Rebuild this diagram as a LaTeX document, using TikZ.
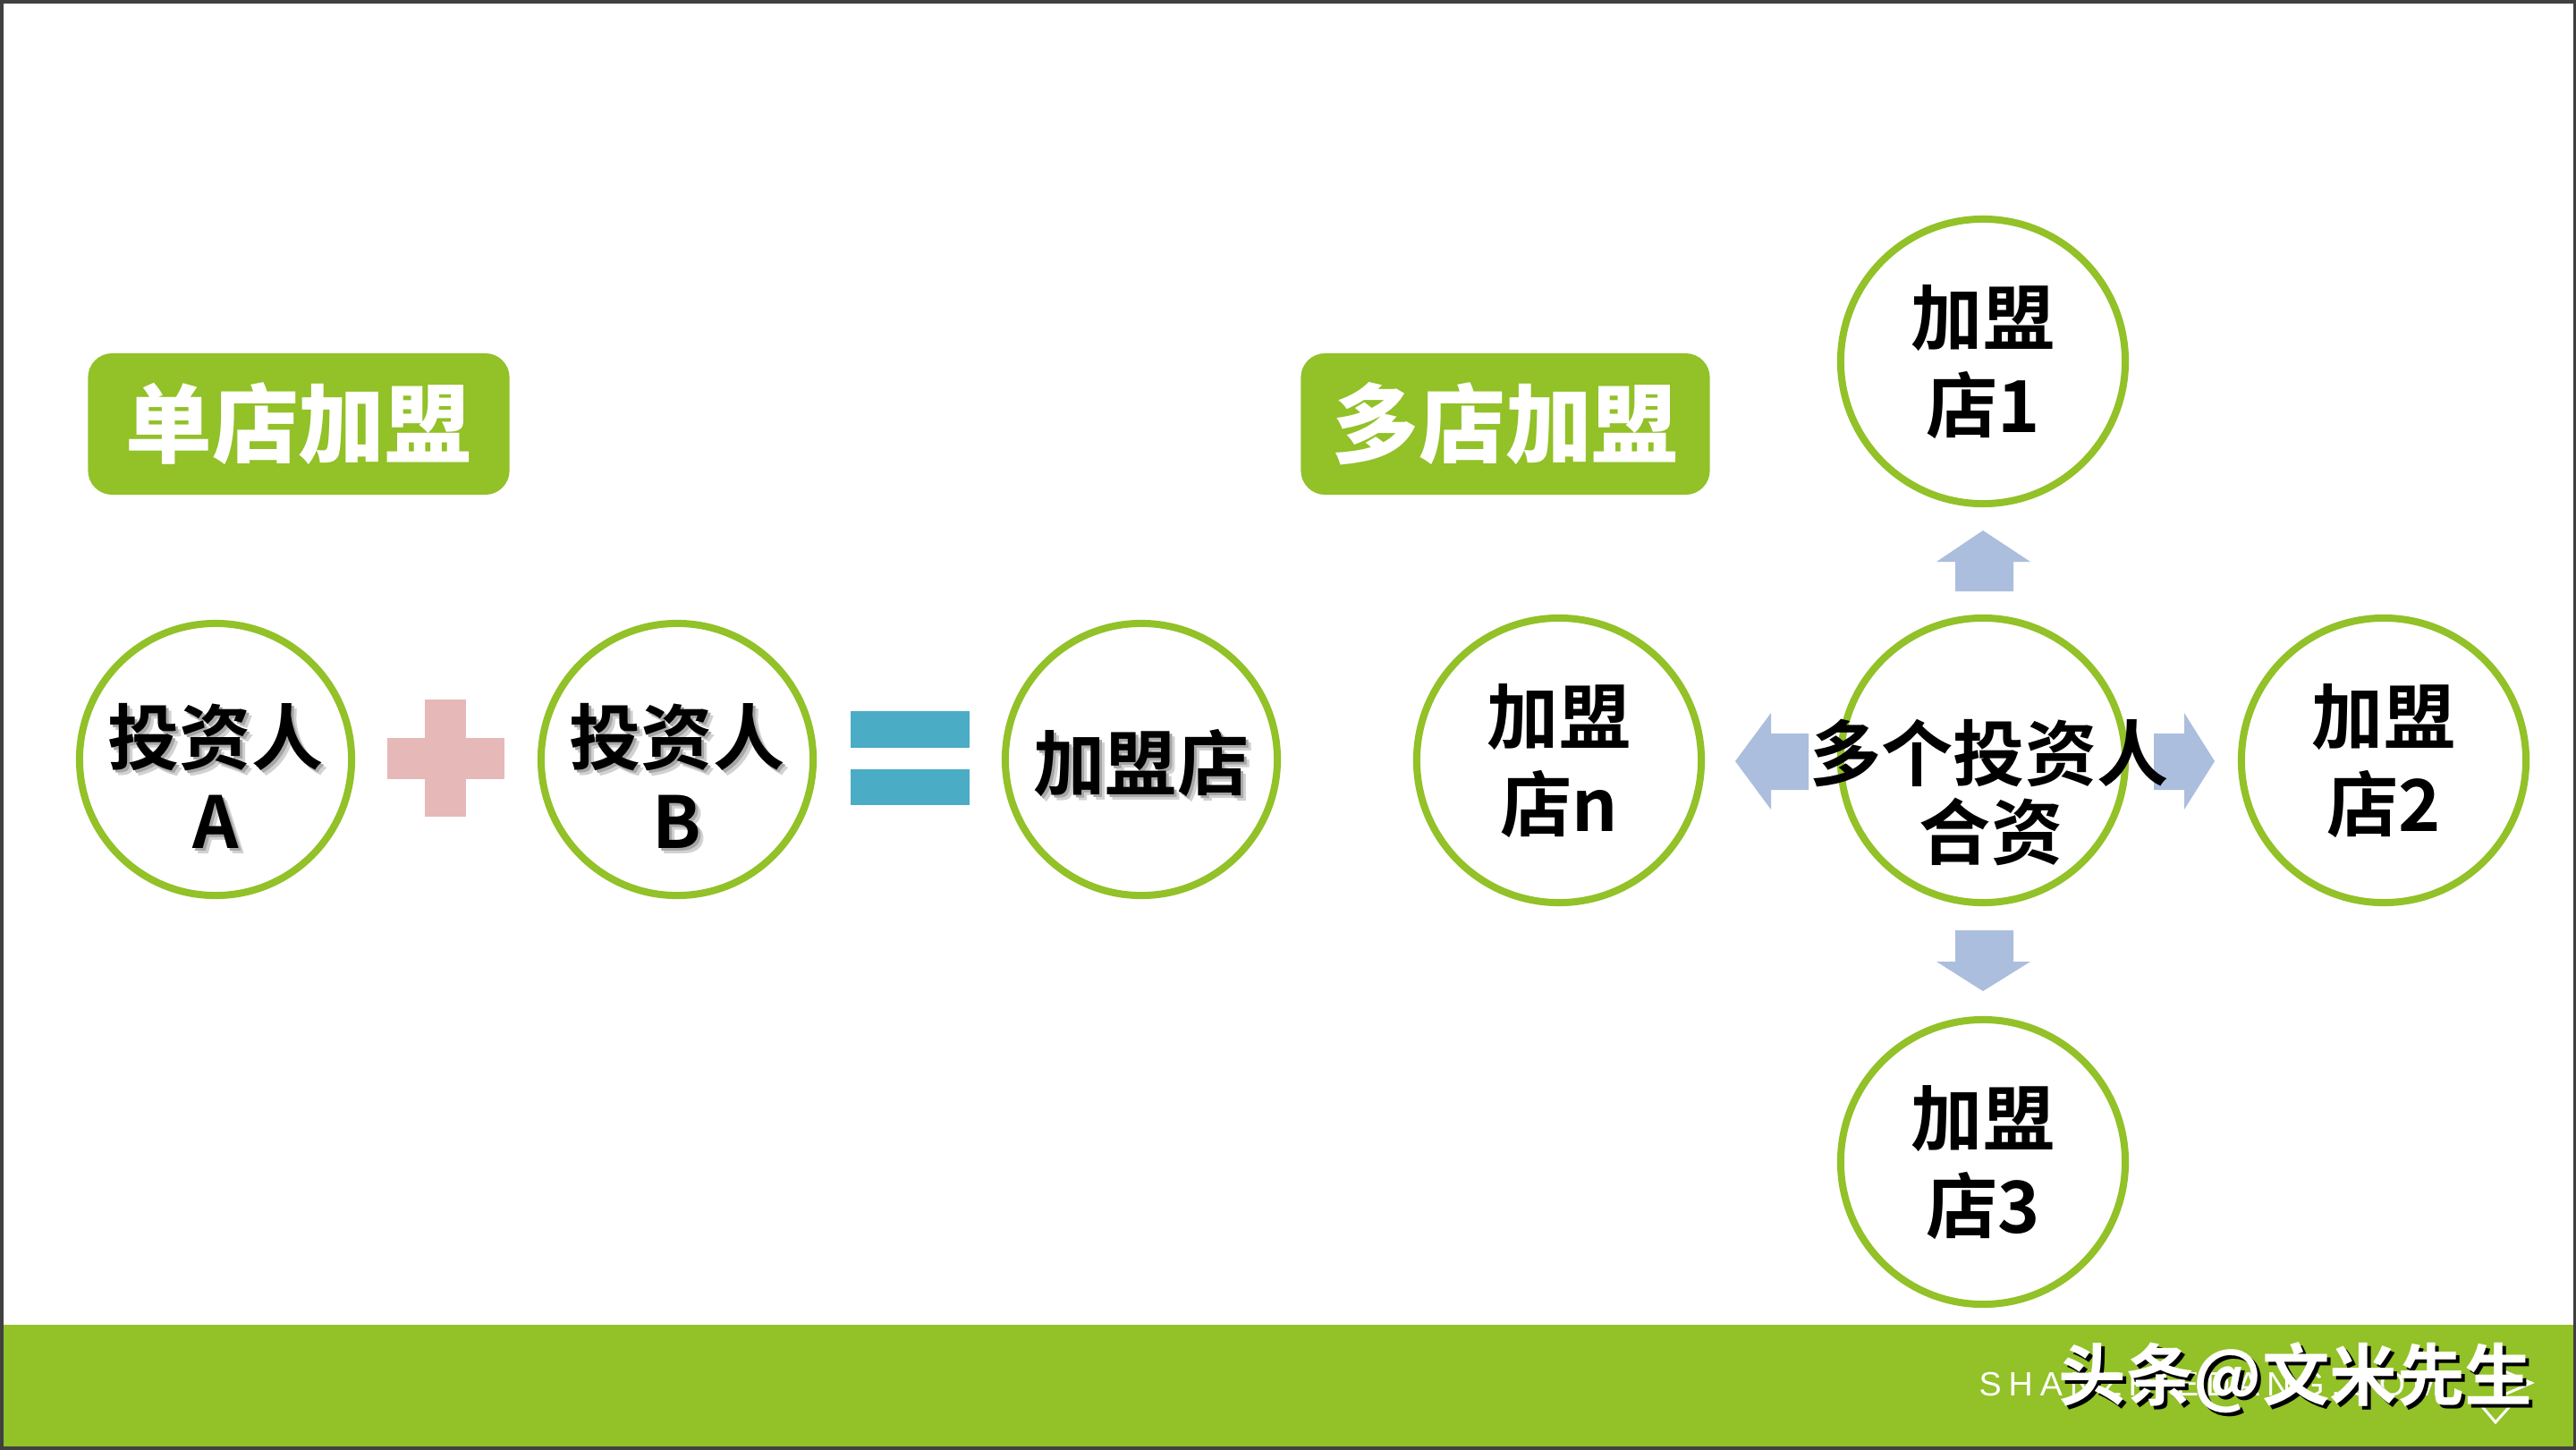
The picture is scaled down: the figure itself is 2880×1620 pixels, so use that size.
\documentclass[tikz,border=0pt]{standalone}
\usepackage{fontspec}
\newfontfamily\cjkbold{Noto Sans CJK SC Bold}
\newfontfamily\cjkblack{Noto Sans CJK SC Black}
\newfontfamily\latinthin[LetterSpace=21]{Liberation Sans}
\definecolor{leaf}{RGB}{146,193,40}
\definecolor{arrowblue}{RGB}{172,190,221}
\definecolor{pluspink}{RGB}{230,185,184}
\definecolor{eqblue}{RGB}{75,172,198}
\definecolor{framegray}{RGB}{64,64,64}
\tikzset{
  titlebox/.style={fill=leaf, rounded corners=0.27cm, minimum width=4.71cm, minimum height=1.58cm,
    text=white, font=\cjkblack\fontsize{27.5}{30}\selectfont, inner sep=0pt},
  ringsmall/.style={circle, draw=leaf, line width=0.08cm, fill=white, minimum size=3.04cm, inner sep=0pt},
  ringbig/.style={circle, draw=leaf, line width=0.08cm, fill=white, minimum size=3.18cm, inner sep=0pt},
  ctext/.style={anchor=base, inner sep=0pt, font=\cjkbold\fontsize{22.8}{26}\selectfont, text=black},
  cshadowA/.style={ctext, text=black!18},
  cshadowB/.style={ctext, text=black!35},
  blockarrow/.style={fill=arrowblue, draw=none},
  wmark/.style={anchor=base west, inner sep=0pt, font=\cjkbold\fontsize{21.5}{24}\selectfont},
}
\begin{document}
\begin{tikzpicture}[x=0.01cm,y=-0.01cm]
\useasboundingbox (0,0) rectangle (2880,1620);
\fill[white] (0,0) rectangle (2880,1620);

% bottom bar
\fill[leaf] (0,1481) rectangle (2880,1620);

% frame
\draw[framegray, line width=0.07cm] (0,0) rectangle (2880,1620);

% titles
\node[titlebox] (t1) at (334,474) {单店加盟};
\node[titlebox, minimum width=4.57cm] (t2) at (1683,474) {多店加盟};

% left: circles
\node[ringsmall] (ca) at (241,849) {};
\node[ringsmall] (cb) at (757,849) {};
\node[ringsmall] (cc) at (1276,849) {};

\node[cshadowA] (ca1t) at (247,860) {投资人};
\node[cshadowB] (ca1s) at (244,857) {投资人};
\node[ctext] (ca1) at (241,854) {投资人};
\node[cshadowA] (ca2t) at (247,954) {A};
\node[cshadowB] (ca2s) at (244,951) {A};
\node[ctext] (ca2) at (241,948) {A};

\node[cshadowA] (cb1t) at (763,860) {投资人};
\node[cshadowB] (cb1s) at (760,857) {投资人};
\node[ctext] (cb1) at (757,854) {投资人};
\node[cshadowA] (cb2t) at (763,954) {B};
\node[cshadowB] (cb2s) at (760,951) {B};
\node[ctext] (cb2) at (757,948) {B};

\node[cshadowA] (cc1t) at (1282,889) {加盟店};
\node[cshadowB] (cc1s) at (1279,886) {加盟店};
\node[ctext] (cc1) at (1276,883) {加盟店};

% plus
\fill[pluspink] (475,782) rectangle (521,913);
\fill[pluspink] (433,825) rectangle (564,871);
% equals
\fill[eqblue] (951,795) rectangle (1084,836);
\fill[eqblue] (951,860) rectangle (1084,900);

% right: arrows
\fill[blockarrow] (2217,593) -- (2270,628) -- (2251,628) -- (2251,661) -- (2186,661) -- (2186,628) -- (2165,628) -- cycle;
\fill[blockarrow] (2217,1108) -- (2270,1075) -- (2251,1075) -- (2251,1040) -- (2186,1040) -- (2186,1075) -- (2165,1075) -- cycle;
\fill[blockarrow] (1940,851) -- (1980,797) -- (1980,820) -- (2022,820) -- (2022,883) -- (1980,883) -- (1980,905) -- cycle;
\fill[blockarrow] (2476,851) -- (2442,797) -- (2442,820) -- (2408,820) -- (2408,883) -- (2442,883) -- (2442,905) -- cycle;

% right: circles
\node[ringbig] (m) at (2217,850) {};
\node[ringbig] (s1) at (2217,404) {};
\node[ringbig] (s3) at (2217,1299) {};
\node[ringbig] (sn) at (1743,850) {};
\node[ringbig] (s2) at (2665,850) {};

\node[ctext] (s1a) at (2217,385) {加盟};
\node[ctext] (s1b) at (2217,483) {店1};
\node[ctext] (s3a) at (2217,1280) {加盟};
\node[ctext] (s3b) at (2217,1378) {店3};
\node[ctext] (sna) at (1743,831) {加盟};
\node[ctext] (snb) at (1743,929) {店n};
\node[ctext] (s2a) at (2665,831) {加盟};
\node[ctext] (s2b) at (2665,929) {店2};

\node[ctext] (ma) at (2224,872) {多个投资人};
\node[ctext] (mb) at (2226,960) {合资};

% bottom watermark area
\node[anchor=base west, inner sep=0pt, text=white, font=\latinthin\fontsize{10.7}{12}\selectfont] (bg) at (2212,1560) {SHANZHIEDANG.COM};
\draw[white, line width=0.03cm] (2800,1533) -- (2830,1546) -- (2800,1559);
\draw[white, line width=0.03cm] (2773,1570) -- (2790,1590) -- (2815,1562);
\node[wmark, text=black] (wms) at (2305,1569) {头条@文米先生};
\node[wmark, text=white] (wm) at (2301,1565) {头条@文米先生};
\end{tikzpicture}
\end{document}
